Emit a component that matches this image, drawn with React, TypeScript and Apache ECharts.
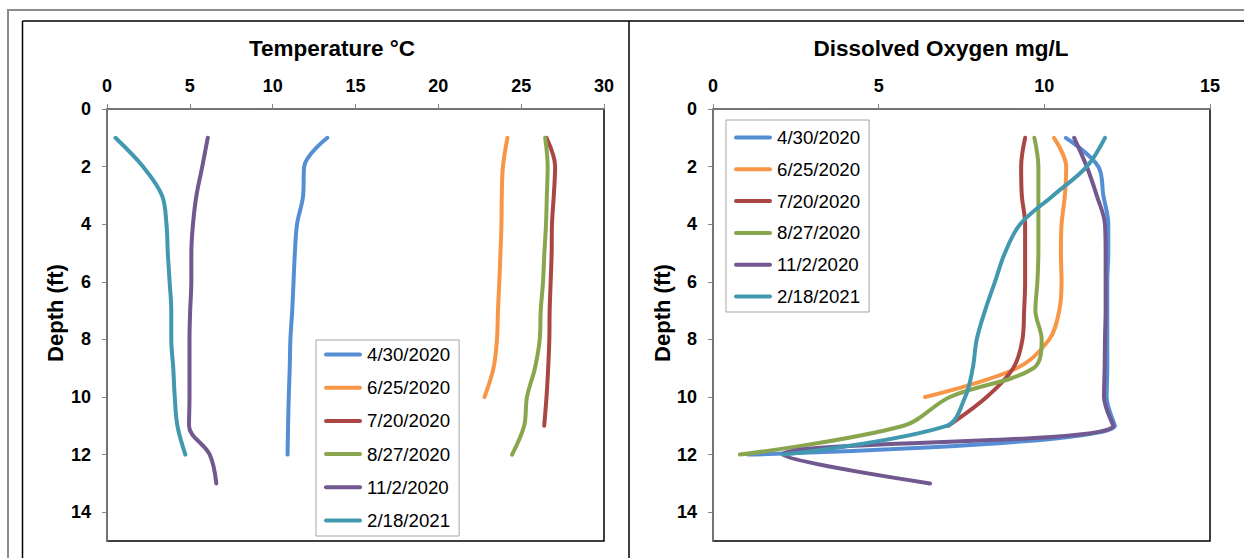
import React, { useEffect, useRef } from "react";
import * as echarts from "echarts";

const seriesNames = ["4/30/2020", "6/25/2020", "7/20/2020", "8/27/2020", "11/2/2020", "2/18/2021"];
const seriesColors = ["#558ED5", "#F79646", "#AA4643", "#89A54E", "#71588F", "#4198AF"];

// depth (ft) starts at 1 and increases by 1 for each value
const tempApr = [13.3, 11.9, 11.84, 11.47, 11.34, 11.26, 11.18, 11.07, 11.03, 10.97, 10.93, 10.9];
const tempJun = [24.17, 23.9, 23.83, 23.81, 23.75, 23.68, 23.6, 23.54, 23.33, 22.79];
const tempJul = [26.53, 27.05, 26.97, 26.86, 26.84, 26.78, 26.72, 26.7, 26.63, 26.53, 26.39];
const tempAug = [26.45, 26.6, 26.55, 26.5, 26.4, 26.32, 26.18, 26.12, 25.83, 25.35, 25.18, 24.45];
const tempNov = [6.08, 5.75, 5.4, 5.19, 5.09, 5.09, 5.02, 4.98, 4.98, 4.98, 4.95, 6.2, 6.6];
const tempFeb = [0.51, 2.17, 3.32, 3.59, 3.67, 3.78, 3.88, 3.88, 4.0, 4.09, 4.25, 4.73];

const doApr = [10.65, 11.63, 11.78, 11.93, 11.93, 11.9, 11.9, 11.9, 11.9, 11.88, 12.13, 1.07];
const doJun = [10.29, 10.66, 10.62, 10.52, 10.5, 10.52, 10.45, 10.15, 9.17, 6.4];
const doJul = [9.42, 9.3, 9.32, 9.42, 9.42, 9.42, 9.39, 9.34, 9.06, 8.26, 7.1];
const doAug = [9.7, 9.82, 9.82, 9.82, 9.82, 9.79, 9.73, 9.92, 9.67, 7.15, 5.75, 0.81];
const doNov = [10.9, 11.28, 11.58, 11.83, 11.85, 11.85, 11.85, 11.83, 11.82, 11.8, 12.08, 2.1, 6.55];
const doFeb = [11.83, 11.28, 10.27, 9.27, 8.81, 8.51, 8.21, 7.96, 7.84, 7.61, 7.05, 2.1];

const depthTicks = [0, 2, 4, 6, 8, 10, 12, 14];
const tempTitle = "Temperature °C";
const doTitle = "Dissolved Oxygen mg/L";
const depthName = "Depth (ft)";

const FONT = "Liberation Sans, Arial, sans-serif";
const LEGEND_ICON = "path://M2,0 H36 A2,2 0 0 1 36,4 H2 A2,2 0 0 1 2,0 Z";

function toPairs(vals: number[]) {
  return vals.map((v, i) => [v, i + 1]);
}

export default function App() {
  const ref = useRef<HTMLDivElement>(null);
  useEffect(() => {
    if (!ref.current) return;
    const chart = echarts.init(ref.current, null, { renderer: "svg" });
    const tempSets = [tempApr, tempJun, tempJul, tempAug, tempNov, tempFeb];
    const doSets = [doApr, doJun, doJul, doAug, doNov, doFeb];

    const axisGrey = "#868686";
    const mkX = (gi: number, max: number, interval: number) => ({
      type: "value",
      gridIndex: gi,
      position: "top",
      min: 0,
      max,
      interval,
      axisLine: { show: true, lineStyle: { color: axisGrey, width: 1.5 } },
      axisTick: { show: true, length: 5, lineStyle: { color: axisGrey, width: 1 } },
      axisLabel: { margin: 14, color: "#000", fontSize: 18, fontWeight: "bold", fontFamily: FONT },
      splitLine: { show: false },
    });
    const mkY = (gi: number) => ({
      type: "value",
      gridIndex: gi,
      inverse: true,
      min: 0,
      max: 15,
      interval: 1,
      axisLine: { show: true, lineStyle: { color: axisGrey, width: 1.5 } },
      axisTick: { show: true, length: 5, customValues: depthTicks, lineStyle: { color: axisGrey, width: 1 } },
      axisLabel: {
        margin: 16,
        customValues: depthTicks,
        color: "#000",
        fontSize: 18,
        fontWeight: "bold",
        fontFamily: FONT,
      },
      splitLine: { show: false },
    });

    const mkSeries = (sets: number[][], gi: number) =>
      sets.map((vals, i) => ({
        type: "line",
        name: seriesNames[i],
        xAxisIndex: gi,
        yAxisIndex: gi,
        data: toPairs(vals),
        smooth: 0.35,
        symbol: "none",
        color: seriesColors[i],
        lineStyle: { width: 4, color: seriesColors[i], cap: "round", join: "round" },
      }));

    const legendCommon = {
      orient: "vertical",
      icon: LEGEND_ICON,
      itemWidth: 38,
      itemHeight: 20,
      itemGap: 14.2,
      borderColor: "#A6A6A6",
      borderWidth: 1,
      backgroundColor: "#fff",
      textStyle: { fontSize: 18.7, color: "#000", fontFamily: FONT },
      data: seriesNames,
      selectedMode: false,
    };

    chart.setOption({
      animation: false,
      backgroundColor: "#fff",
      grid: [
        { left: 107, top: 109, width: 497, height: 432, show: true, borderColor: "#000", borderWidth: 1.5 },
        { left: 713, top: 109, width: 497, height: 432, show: true, borderColor: "#000", borderWidth: 1.5 },
      ],
      xAxis: [mkX(0, 30, 5), mkX(1, 15, 5)],
      yAxis: [mkY(0), mkY(1)],
      legend: [
        { ...legendCommon, left: 316, top: 340, padding: [5, 9, 6, 8] },
        { ...legendCommon, left: 726, top: 120, padding: [8, 9, 6, 8], itemGap: 12.8 },
      ],
      graphic: [
        { type: "rect", silent: true, shape: { x: 8, y: 10, width: 1300, height: 700 }, style: { fill: "none", stroke: "#8C8C8C", lineWidth: 2 } },
        { type: "line", silent: true, shape: { x1: 22.5, y1: 21, x2: 1250, y2: 21 }, style: { stroke: "#000", lineWidth: 1.5 } },
        { type: "line", silent: true, shape: { x1: 22.5, y1: 21, x2: 22.5, y2: 600 }, style: { stroke: "#000", lineWidth: 1.5 } },
        { type: "line", silent: true, shape: { x1: 629, y1: 21, x2: 629, y2: 600 }, style: { stroke: "#000", lineWidth: 1.5 } },
        { type: "text", silent: true, x: 332, y: 48, style: { text: tempTitle, fill: "#000", font: `bold 22.5px ${FONT}`, textAlign: "center", textVerticalAlign: "middle" } },
        { type: "text", silent: true, x: 941, y: 48, style: { text: doTitle, fill: "#000", font: `bold 22.5px ${FONT}`, textAlign: "center", textVerticalAlign: "middle" } },
        { type: "text", silent: true, x: 55, y: 313, rotation: Math.PI / 2, style: { text: depthName, fill: "#000", font: `bold 22px ${FONT}`, textAlign: "center", textVerticalAlign: "middle" } },
        { type: "text", silent: true, x: 662, y: 313, rotation: Math.PI / 2, style: { text: depthName, fill: "#000", font: `bold 22px ${FONT}`, textAlign: "center", textVerticalAlign: "middle" } },
      ],
      series: [...mkSeries(tempSets, 0), ...mkSeries(doSets, 1)],
    });
    return () => chart.dispose();
  }, []);
  return <div ref={ref} style={{ position: "fixed", left: 0, top: 0, width: 1244, height: 558 }} />;
}
